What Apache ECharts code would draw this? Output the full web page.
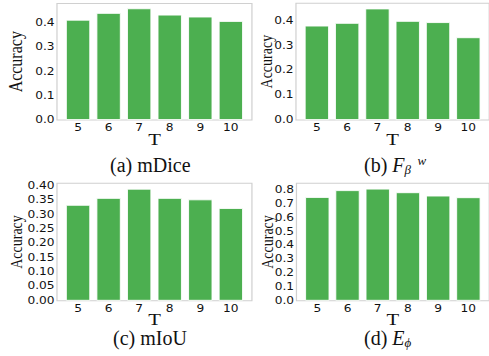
<!DOCTYPE html>
<html><head><meta charset="utf-8">
<script src="https://cdn.jsdelivr.net/npm/echarts@6/dist/echarts.min.js"></script>
<style>
html,body{margin:0;padding:0;background:#fff;overflow:hidden}
#wrap{position:relative;width:489px;height:356px;overflow:hidden}
#c{position:absolute;left:0;top:0;width:401px;height:356px;transform:scaleX(1.22);transform-origin:0 0}
#cap{position:absolute;left:0;top:0;width:489px;height:356px}
</style>
</head><body><div id="wrap"><div id="c"></div><div id="cap"></div></div>
<script>
const categories = ['5', '6', '7', '8', '9', '10'];
const mDice = [0.413, 0.441, 0.460, 0.434, 0.426, 0.408];
const fBetaW = [0.380, 0.391, 0.449, 0.399, 0.394, 0.333];
const mIoU = [0.333, 0.357, 0.389, 0.357, 0.352, 0.322];
const ePhi = [0.749, 0.798, 0.809, 0.783, 0.759, 0.747];
const yMax = [0.48, 0.47, 0.408, 0.848];
const yStep = [0.1, 0.1, 0.05, 0.1];
const yDigits = [1, 1, 2, 1];
const captions = ['{n|(a) mDice}', '{n|(b) }{i|F}{sub|β}{sup|  w}', '{n|(c) mIoU}', '{n|(d) }{i|E}{sub|ϕ}'];

const panels = [
  {data: mDice, grid: {left: 46.7, top: 3.5, width: 159.8, height: 116.5}, nameSize: 16, nameGap: 25.8, tGap: 13.5},
  {data: fBetaW, grid: {left: 242.6, top: 3.3, width: 160.7, height: 116.7}, nameSize: 14, nameGap: 17.5, tGap: 13.5},
  {data: mIoU, grid: {left: 46.7, top: 183.3, width: 159.8, height: 117.4}, nameSize: 14, nameGap: 26.2, tGap: 12.5},
  {data: ePhi, grid: {left: 243.0, top: 183.3, width: 160.7, height: 117.4}, nameSize: 14, nameGap: 17.5, tGap: 12.5}
];
const green = '#4caf50';
const tickFont = 'DejaVu Sans';
const serif = 'Liberation Serif';

const grids = [], xAxes = [], yAxes = [], series = [];
panels.forEach((p, i) => {
  grids.push(Object.assign({show: true, borderColor: '#d0d0d0', borderWidth: 1, containLabel: false}, p.grid));
  xAxes.push({
    type: 'value', gridIndex: i, min: -0.69, max: 5.69,
    axisLine: {show: false}, axisTick: {show: false}, splitLine: {show: false},
    axisLabel: {customValues: [0, 1, 2, 3, 4, 5], formatter: v => categories[Math.round(v)],
      fontFamily: tickFont, fontSize: 10, color: '#111', margin: 3},
    name: 'T', nameLocation: 'middle', nameGap: p.tGap, nameMoveOverlap: false,
    nameTextStyle: {fontFamily: serif, fontSize: 17, color: '#111', lineHeight: 12}
  });
  yAxes.push({
    type: 'value', gridIndex: i, min: 0, max: yMax[i], interval: yStep[i],
    axisLine: {show: false}, axisTick: {show: false}, splitLine: {show: false},
    axisLabel: {showMaxLabel: false, formatter: v => v.toFixed(yDigits[i]),
      fontFamily: tickFont, fontSize: 10, color: '#111', margin: 2},
    name: 'Accuracy', nameLocation: 'middle', nameGap: p.nameGap, nameRotate: 90, nameMoveOverlap: false,
    nameTextStyle: {fontFamily: serif, fontSize: p.nameSize, color: '#111'}
  });
  series.push({
    type: 'bar', xAxisIndex: i, yAxisIndex: i, barWidth: 20,
    itemStyle: {color: green, borderColor: '#ffffff', borderWidth: 0.8},
    data: p.data.map((v, k) => [k, v]), silent: true
  });
});

const chart = echarts.init(document.getElementById('c'), null, {renderer: 'svg'});
chart.setOption({
  animation: false,
  backgroundColor: '#fff',
  grid: grids, xAxis: xAxes, yAxis: yAxes, series: series
});

const capFs = 20;
const rich = {
  n: {fontFamily: serif, fontSize: capFs, color: '#111', lineHeight: 22},
  i: {fontFamily: serif, fontSize: capFs, fontStyle: 'italic', color: '#111', lineHeight: 22},
  sub: {fontFamily: serif, fontSize: 13, fontStyle: 'italic', color: '#111', verticalAlign: 'bottom', lineHeight: 2},
  sup: {fontFamily: serif, fontSize: 13, fontStyle: 'italic', color: '#111', verticalAlign: 'top', lineHeight: 8}
};
const capPos = [[110, 154], [364, 154], [113, 327], [364, 327]];
const capChart = echarts.init(document.getElementById('cap'), null, {renderer: 'svg'});
capChart.setOption({
  animation: false,
  title: captions.map((t, k) => ({
    text: t, left: capPos[k][0], top: capPos[k][1], padding: 0,
    textStyle: {fontFamily: serif, fontSize: capFs, color: '#111', fontWeight: 'normal', lineHeight: 22, rich: rich}
  }))
});
</script></body></html>
